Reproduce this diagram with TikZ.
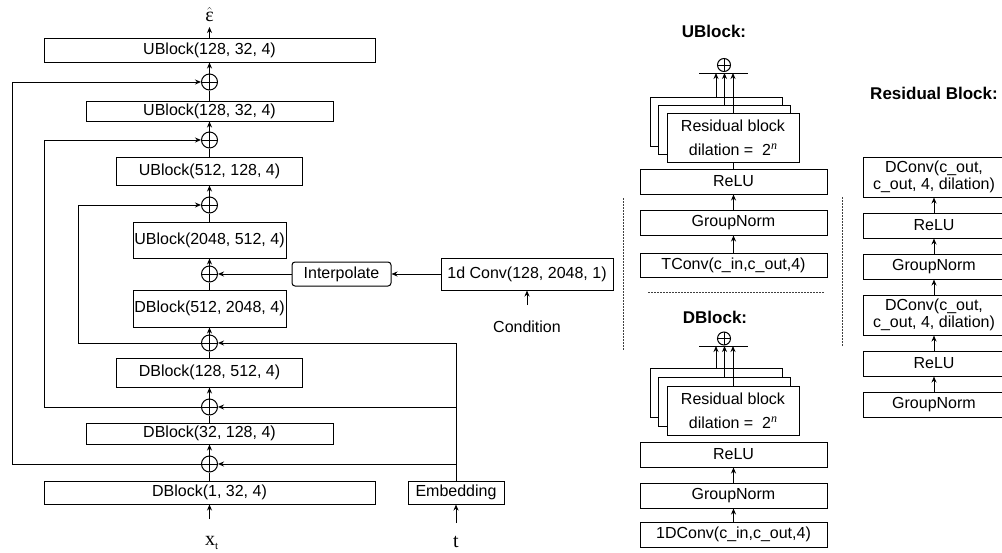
\documentclass[tikz,border=0pt]{standalone}
\usepackage{fontspec}
\setmainfont{Liberation Sans}
\newfontfamily\serif{Liberation Serif}
\usetikzlibrary{arrows.meta}
\begin{document}
\begin{tikzpicture}[x=1pt,y=-1pt, line width=1pt,
  every node/.style={font=\fontsize{16}{17}\selectfont},
  blk/.style={draw, rectangle, inner sep=0pt, fill=white},
  arr/.style={-{Stealth[length=6pt,width=5pt]}},
  oplus/.style={draw, circle, minimum size=16pt, inner sep=0pt, fill=white,
    path picture={\draw[line width=1pt] (path picture bounding box.north) -- (path picture bounding box.south)
      (path picture bounding box.west) -- (path picture bounding box.east);}},
  smallplus/.style={oplus, minimum size=13pt},
  title/.style={font=\fontsize{17}{17}\selectfont\bfseries},
  dots/.style={line width=0.7pt, dash pattern=on 1.5pt off 1.5pt, black!75},
  wide/.style={minimum width=187pt, minimum height=25pt},
  stk/.style={minimum width=132pt, minimum height=49pt},
  res/.style={minimum width=142pt, minimum height=25pt},
  res2/.style={minimum width=142pt, minimum height=40pt, align=center, font=\fontsize{16}{17}\selectfont},
  serifbig/.style={font=\serif\fontsize{20}{20}\selectfont}
]
\useasboundingbox (0,0) rectangle (1002,552);
\clip (0,0) rectangle (1002,552);

% ---------------- main column ----------------
\node[blk, minimum width=331pt, minimum height=24pt] (u1) at (209.5,50) {UBlock(128, 32, 4)};
\node[oplus] (c1) at (209.5,82) {};
\node[blk, minimum width=247pt, minimum height=20pt] (u2) at (209.5,111) {UBlock(128, 32, 4)};
\node[oplus] (c2) at (209.5,140) {};
\node[blk, minimum width=186pt, minimum height=28pt] (u3) at (209.5,171) {UBlock(512, 128, 4)};
\node[oplus] (c3) at (209.5,205) {};
\node[blk, minimum width=153pt, minimum height=36pt] (u4) at (209.5,240) {UBlock(2048, 512, 4)};
\node[oplus] (c4) at (209.5,274) {};
\node[blk, minimum width=153pt, minimum height=37pt] (d4) at (209.5,308.5) {DBlock(512, 2048, 4)};
\node[oplus] (c5) at (209.5,343) {};
\node[blk, minimum width=186pt, minimum height=29pt] (d3) at (209.5,372.5) {DBlock(128, 512, 4)};
\node[oplus] (c6) at (209.5,407) {};
\node[blk, minimum width=247pt, minimum height=21pt] (d2) at (209.5,433.5) {DBlock(32, 128, 4)};
\node[oplus] (c7) at (209.5,464) {};
\node[blk, minimum width=331pt, minimum height=23pt] (d1) at (209.5,492.5) {DBlock(1, 32, 4)};

\node[anchor=base, inner sep=0pt] (eps) at (209.5,21) {$\hat{\hbox{\serif\fontsize{20}{20}\selectfont ε}}$};
\coordinate (eout) at (209.5,27);
\node[anchor=base west, inner sep=0pt, serifbig] (xt) at (204.5,545) {x\raisebox{-4pt}{\fontsize{11}{11}\selectfont t}};
\coordinate (xin) at (209.5,519);

\draw[arr] (xin) -- (d1.south);
\draw (d1.north) -- (c7.south);
\draw[arr] (c7.north) -- (d2.south);
\draw (d2.north) -- (c6.south);
\draw[arr] (c6.north) -- (d3.south);
\draw (d3.north) -- (c5.south);
\draw[arr] (c5.north) -- (d4.south);
\draw (d4.north) -- (c4.south);
\draw[arr] (c4.north) -- (u4.south);
\draw (u4.north) -- (c3.south);
\draw[arr] (c3.north) -- (u3.south);
\draw (u3.north) -- (c2.south);
\draw[arr] (c2.north) -- (u2.south);
\draw (u2.north) -- (c1.south);
\draw[arr] (c1.north) -- (u1.south);
\draw[arr] (u1.north) -- (eout);

% skip connections
\coordinate (k1) at (12,0);
\coordinate (k2) at (44,0);
\coordinate (k3) at (78,0);
\draw[arr] (c7.west) -- (c7.west -| k1) |- (c1.west);
\draw[arr] (c6.west) -- (c6.west -| k2) |- (c2.west);
\draw[arr] (c5.west) -- (c5.west -| k3) |- (c3.west);

% embedding
\node[blk, minimum width=96pt, minimum height=23pt] (emb) at (456,492.5) {Embedding};
\node[anchor=base, inner sep=0pt, serifbig] (tl) at (456,547) {t};
\coordinate (tin) at (456,523);
\draw[arr] (tin) -- (emb.south);
\draw[arr] (emb.north) |- (c7.east);
\draw[arr] (emb.north) |- (c6.east);
\draw[arr] (emb.north) |- (c5.east);

% condition
\node[blk, rounded corners=3pt, minimum width=99pt, minimum height=24pt] (interp) at (341.5,274) {Interpolate};
\node[blk, minimum width=172pt, minimum height=32pt] (conv) at (527,274) {1d Conv(128, 2048, 1)};
\node (cond) at (527,327) {Condition};
\coordinate (condin) at (527,305);
\draw[arr] (condin) -- (conv.south);
\draw[arr] (conv.west) -- (interp.east);
\draw[arr] (interp.west) -- (c4.east);

% ---------------- UBlock detail ----------------
\node[title] (ut) at (714,31) {UBlock:};
\coordinate (ubar) at (724,73);
\draw ([xshift=-25pt]ubar) -- ([xshift=24pt]ubar);
\node[smallplus] (uc) at (724,65) {};
\node[blk, stk] (ub1) at (716,121.5) {};
\node[blk, stk] (ub2) at (724.5,129.5) {};
\node[blk, stk, align=center, font=\fontsize{16}{24}\selectfont] (ub3) at (733,137.5) {Residual block\\dilation =\ \ 2\raisebox{6pt}{\serif\itshape\fontsize{12}{12}\selectfont n}};
\draw[arr] (ub1.north) -- (ub1.north |- ubar);
\draw[arr] (ub2.north) -- (ub2.north |- ubar);
\draw[arr] (ub3.north) -- (ub3.north |- ubar);
\node[blk, wide] (uR) at (733.5,181.5) {ReLU};
\node[blk, wide] (uG) at (733.5,222.5) {GroupNorm};
\node[blk, wide, minimum height=24pt] (uT) at (733.5,265) {TConv(c\_in,c\_out,4)};
\draw (ub3.south) -- (ub3.south |- uR.north);
\draw[arr] (uG.north) -- (uR.south);
\draw[arr] (uT.north) -- (uG.south);

% separators
\draw[dots] (623,198) -- (623,350);
\draw[dots] (842,197) -- (842,347);
\draw[dots] (648,292) -- (824,292);

% ---------------- DBlock detail ----------------
\node[title] (dt) at (715,317) {DBlock:};
\coordinate (dbar) at (724,346);
\draw ([xshift=-25pt]dbar) -- ([xshift=24pt]dbar);
\node[smallplus] (dc) at (724,338.5) {};
\node[blk, stk] (db1) at (716,392.5) {};
\node[blk, stk] (db2) at (724.5,401.5) {};
\node[blk, stk, align=center, font=\fontsize{16}{24}\selectfont] (db3) at (733,410.5) {Residual block\\dilation =\ \ 2\raisebox{6pt}{\serif\itshape\fontsize{12}{12}\selectfont n}};
\draw[arr] (db1.north) -- (db1.north |- dbar);
\draw[arr] (db2.north) -- (db2.north |- dbar);
\draw[arr] (db3.north) -- (db3.north |- dbar);
\node[blk, wide] (dR) at (733.5,454.5) {ReLU};
\node[blk, wide] (dG) at (733.5,495.5) {GroupNorm};
\node[blk, wide] (dC) at (733.5,534.5) {1DConv(c\_in,c\_out,4)};
\draw[arr] (dG.north) -- (dR.south);
\draw[arr] (dC.north) -- (dG.south);

% ---------------- Residual block detail ----------------
\node[title] (rt) at (934,93) {Residual Block:};
\node[blk, res2] (rD1) at (934,177) {DConv(c\_out,\\c\_out, 4, dilation)};
\node[blk, res] (rR1) at (934,225.5) {ReLU};
\node[blk, res] (rG1) at (934,266.5) {GroupNorm};
\node[blk, res2] (rD2) at (934,315) {DConv(c\_out,\\c\_out, 4, dilation)};
\node[blk, res] (rR2) at (934,363.5) {ReLU};
\node[blk, res] (rG2) at (934,404.5) {GroupNorm};
\draw[arr] (rG2.north) -- (rR2.south);
\draw[arr] (rR2.north) -- (rD2.south);
\draw[arr] (rD2.north) -- (rG1.south);
\draw[arr] (rG1.north) -- (rR1.south);
\draw[arr] (rR1.north) -- (rD1.south);
\end{tikzpicture}
\end{document}
